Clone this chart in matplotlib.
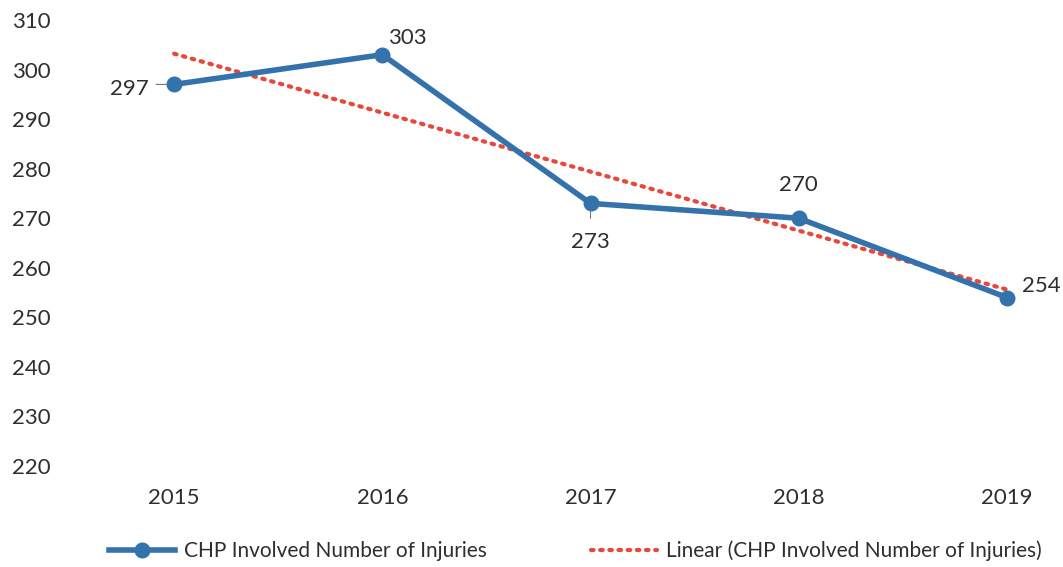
import numpy as np
import matplotlib.pyplot as plt

years = ["2015", "2016", "2017", "2018", "2019"]
injuries = [297, 303, 273, 270, 254]
y_ticks = [220, 230, 240, 250, 260, 270, 280, 290, 300, 310]

plt.rcParams['font.family'] = ['Lato', 'DejaVu Sans']

fig = plt.figure(figsize=(10.63, 5.67), dpi=100)
ax = fig.add_axes([70 / 1063, 1 - 466 / 567, 1 - 70 / 1063, (466 - 20) / 567])

x = np.arange(len(years))
blue = '#3472AC'
red = '#E8483B'
text_color = '#2E2E2E'

# linear trend line over the series
slope, intercept = np.polyfit(x, injuries, 1)
trend = slope * x + intercept
ax.plot(x, trend, linestyle=(0, (0.6, 1.6)), color=red, lw=3.0,
        dash_capstyle='round', zorder=2,
        label='Linear (CHP Involved Number of Injuries)')

ax.plot(x, injuries, color=blue, lw=4, marker='o', markersize=10.5,
        markerfacecolor=blue, markeredgecolor=blue, zorder=3,
        label='CHP Involved Number of Injuries')

ax.set_xlim(-0.5, 4 + 56 / 208)
ax.set_ylim(220, 310)
ax.set_yticks(y_ticks)
ax.set_xticks(x)
ax.set_xticklabels(years)
ax.tick_params(axis='both', length=0, labelsize=16, labelcolor=text_color)
ax.tick_params(axis='x', pad=16)
ax.tick_params(axis='y', pad=14)
for s in ax.spines.values():
    s.set_visible(False)

# value labels
offsets = [(-18, -3, 'right', 'center'),
           (4, 12, 'left', 'center'),
           (0, -28, 'center', 'center'),
           (0, 24, 'center', 'center'),
           (11, 8, 'left', 'center')]
for xi, v, (dx, dy, ha, va) in zip(x, injuries, offsets):
    ax.annotate(str(v), (xi, v), xytext=(dx, dy), textcoords='offset points',
                ha=ha, va=va, fontsize=16, color=text_color)
# small leader lines
ax.annotate('', (0 - 0.02, 297), xytext=(-12, 0), textcoords='offset points',
            arrowprops=dict(arrowstyle='-', color='#777777', lw=0.8))
ax.annotate('', (2, 273 - 0.8), xytext=(0, -10), textcoords='offset points',
            arrowprops=dict(arrowstyle='-', color='#777777', lw=0.8))

handles, labels = ax.get_legend_handles_labels()
fig.legend(handles[::-1], labels[::-1], loc='center', bbox_to_anchor=(575 / 1063, 1 - 551 / 567),
           ncol=2, frameon=False, fontsize=15, handlelength=3.2, columnspacing=5,
           handletextpad=0.4, labelcolor=text_color)

fig.savefig('out.png', dpi=100)
